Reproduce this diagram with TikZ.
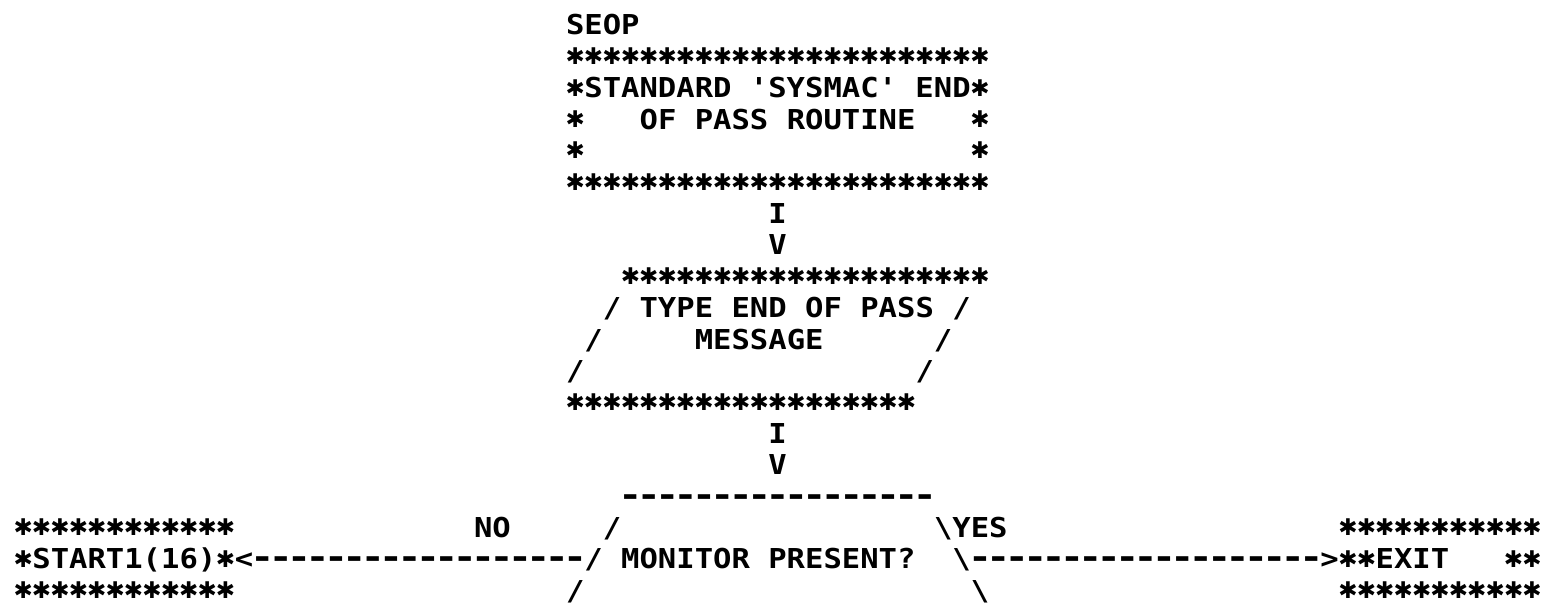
\documentclass[tikz,border=0pt]{standalone}
\usepackage{graphicx}
\usepackage{fontspec}
\usetikzlibrary{positioning}
\newfontfamily\prt[FakeStretch=1.115]{DejaVu Sans Mono}
\newfontfamily\prtstar{DejaVu Sans}
\newlength\cw
\setlength\cw{18.4bp}
\newsavebox\starbox
\newcommand\prtfont{\prt\bfseries\fontsize{27.4bp}{31.4bp}\selectfont\spaceskip=\cw\relax}
\newcommand\pst{\makebox[\cw]{\raisebox{\dimexpr10bp-0.5\ht\starbox+0.5\dp\starbox\relax}{\usebox\starbox}}}
\newcommand\stars[1]{\foreach\k in {1,...,#1}{\pst}}
\newcommand\dashes[1]{\foreach\k in {1,...,#1}{\makebox[\cw]{\scalebox{1.3}[1.2]{-}}}}
\newcommand\gap[1]{\hspace*{#1\cw}}
\tikzset{
    printline/.style={anchor=west, inner ysep=0pt, inner xsep=-1bp, text height=20bp, text depth=0pt, font=\prtfont}, % one printed row
}
\begin{document}
\sbox\starbox{\prtstar\bfseries\fontsize{23bp}{23bp}\selectfont ✱}
\begin{tikzpicture}[x=18.4bp, y=-31.4bp]
    \useasboundingbox (-1.304,-0.796) rectangle (82.77,18.631);
    % End of pass routine
    \node[printline] (seop) at (29.5,0) {SEOP};
    \node[printline] (eoptop) at (29.5,1) {\stars{23}};
    \node[printline] (eop1) at (29.5,2) {\pst STANDARD 'SYSMAC' END\pst};
    \node[printline] (eop2) at (29.5,3) {\pst\gap{3}OF PASS ROUTINE\gap{3}\pst};
    \node[printline] (eop3) at (29.5,4) {\pst\gap{21}\pst};
    \node[printline] (eopbot) at (29.5,5) {\stars{23}};
    \node[printline] (eopi) at (40.5,6) {I};
    \node[printline] (eopv) at (40.5,7) {V};
    % Message
    \node[printline] (msgtop) at (32.5,8) {\stars{20}};
    \node[printline] (msg1) at (31.5,9) {/ TYPE END OF PASS /};
    \node[printline] (msg2) at (30.5,10) {/\gap{5}MESSAGE\gap{6}/};
    \node[printline] (msg3) at (29.5,11) {/\gap{18}/};
    \node[printline] (msgbot) at (29.5,12) {\stars{19}};
    \node[printline] (msgi) at (40.5,13) {I};
    \node[printline] (msgv) at (40.5,14) {V};
    % Decision
    \node[printline] (montop) at (32.5,15) {\dashes{17}};
    \node[printline] (mon1) at (31.5,16) {/\gap{17}\textbackslash YES};
    \node[printline] (mon2) at (30.5,17) {/ MONITOR PRESENT?\gap{2}\textbackslash};
    \node[printline] (mon3) at (29.5,18) {/\gap{21}\textbackslash};
    % No branch
    \node[printline] (no) at (24.5,16) {NO};
    \node[printline] (noline) at (11.5,17) {<\dashes{18}};
    \node[printline] (starttop) at (-0.5,16) {\stars{12}};
    \node[printline] (start) at (-0.5,17) {\pst START1(16)\pst};
    \node[printline] (startbot) at (-0.5,18) {\stars{12}};
    % Yes branch
    \node[printline] (yesline) at (51.5,17) {\dashes{19}>};
    \node[printline] (exittop) at (71.5,16) {\stars{11}};
    \node[printline] (exit) at (71.5,17) {\pst\pst EXIT\gap{3}\pst\pst};
    \node[printline] (exitbot) at (71.5,18) {\stars{11}};
\end{tikzpicture}
\end{document}
